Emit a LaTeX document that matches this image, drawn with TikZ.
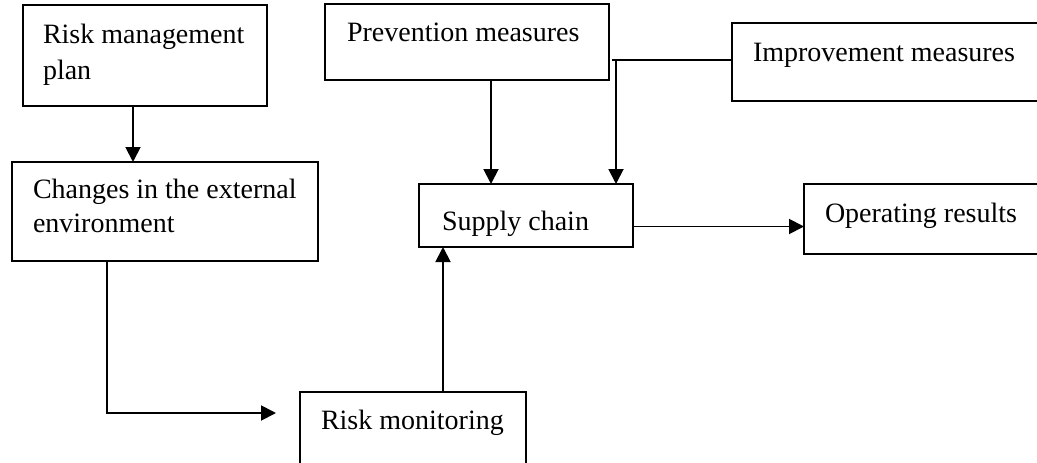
\documentclass[tikz,border=0pt]{standalone}
\usepackage{fontspec}
\setmainfont{Liberation Serif}
\usetikzlibrary{arrows.meta}
\tikzset{
  box/.style={draw=black, line width=1.7pt, anchor=north west, inner sep=0pt, outer sep=0pt},
  txt/.style={anchor=base west, inner sep=0pt, outer sep=0pt, font=\fontsize{28}{34}\selectfont},
  arr/.style={line width=1.9pt, -{Triangle[length=15pt,width=15pt]}},
  link/.style={line width=1.4pt}
}
\begin{document}
\begin{tikzpicture}[x=1pt,y=-1pt]
\useasboundingbox (0,0) rectangle (1037,463);
\clip (0,0) rectangle (1037,463);
% boxes
\node[box, minimum width=244pt, minimum height=101pt] (rmp) at (23,5) {};
\node[box, minimum width=306pt, minimum height=99pt] (chg) at (12,162) {};
\node[box, minimum width=284pt, minimum height=76pt] (prv) at (325,4) {};
\node[box, minimum width=320pt, minimum height=78pt] (imp) at (732,23) {};
\node[box, minimum width=214pt, minimum height=63pt] (sup) at (419,184) {};
\node[box, minimum width=250pt, minimum height=70pt] (opr) at (804,184) {};
\node[box, minimum width=226pt, minimum height=90pt] (mon) at (300,392) {};
% texts
\node[txt] (rmp1) at (43,43) {Risk management};
\node[txt] (rmp2) at (43,79) {plan};
\node[txt] (chg1) at (33,198) {Changes in the external};
\node[txt] (chg2) at (33,232) {environment};
\node[txt] (prv1) at (347,41) {Prevention measures};
\node[txt] (imp1) at (753,61) {Improvement measures};
\node[txt] (sup1) at (442,230) {Supply chain};
\node[txt] (opr1) at (825,222) {Operating results};
\node[txt] (mon1) at (321,429) {Risk monitoring};
% connectors
\draw[arr] ([xshift=110pt]rmp.south west) -- ([xshift=110pt]rmp.south west |- chg.north);
\coordinate (j) at (616,60);
\draw[link] ([xshift=3pt]j -| prv.east) -- (j -| imp.west);
\draw[arr] (j) -- (j |- sup.north);
\draw[arr] ([xshift=166pt]prv.south west) -- ([xshift=166pt]prv.south west |- sup.north);
\draw[arr] ([yshift=-11pt]sup.east) -- ([yshift=-11pt]sup.east -| opr.west);
\coordinate (c1) at (276,413);
\draw[arr] ([xshift=95pt]chg.south west) |- (c1);
\draw[arr] ([xshift=143pt]mon.north west) -- ([xshift=143pt]mon.north west |- sup.south);
\end{tikzpicture}
\end{document}
